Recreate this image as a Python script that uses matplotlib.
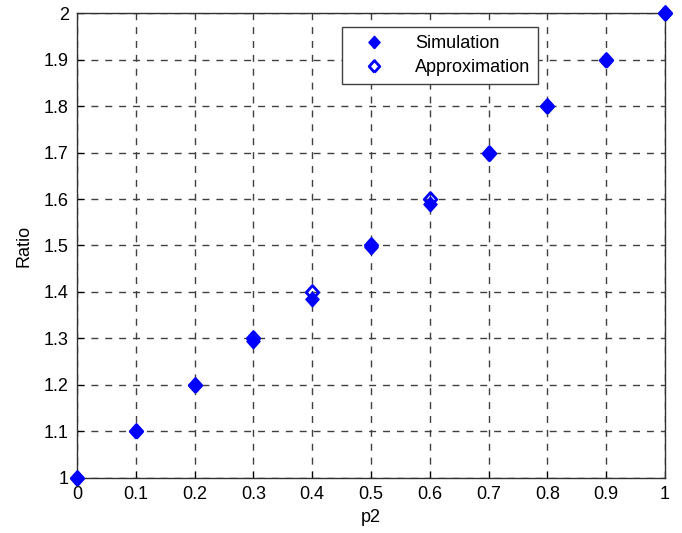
import matplotlib.pyplot as plt
import numpy as np

plt.rcParams['font.family'] = ['Liberation Sans', 'DejaVu Sans']

p2 = [0, 0.1, 0.2, 0.3, 0.4, 0.5, 0.6, 0.7, 0.8, 0.9, 1.0]
simulation = [1.0, 1.1, 1.2, 1.295, 1.385, 1.497, 1.59, 1.697, 1.8, 1.9, 2.0]
approximation = [1.0, 1.1, 1.2, 1.3, 1.4, 1.5, 1.6, 1.7, 1.8, 1.9, 2.0]

# matlab style diamond, a bit taller than wide
diamond = [(0, -1), (0.9, 0), (0, 1), (-0.9, 0), (0, -1)]

fig = plt.figure(figsize=(6.82, 5.33), dpi=100)
ax = fig.add_axes([0.1129, 0.1032, 0.862, 0.8724])

ax.plot(p2, approximation, linestyle='none', marker=diamond, markersize=10,
        color='#0000ff', markerfacecolor='none', markeredgewidth=2.0,
        label='Approximation', clip_on=False, zorder=3)
ax.plot(p2, simulation, linestyle='none', marker=diamond, markersize=10.5,
        color='#0000ff', markeredgewidth=1.0,
        label='Simulation', clip_on=False, zorder=4)

ax.set_xlim(0, 1)
ax.set_ylim(1, 2)
ax.set_xticks(np.arange(0, 1.01, 0.1))
ax.set_yticks(np.arange(1, 2.01, 0.1))
ax.set_xticklabels(['0', '0.1', '0.2', '0.3', '0.4', '0.5', '0.6', '0.7', '0.8', '0.9', '1'])
ax.set_yticklabels(['1', '1.1', '1.2', '1.3', '1.4', '1.5', '1.6', '1.7', '1.8', '1.9', '2'])
ax.tick_params(labelsize=13, direction='in', length=5, pad=6)
ax.grid(True, linestyle=(0, (5, 5)), color='#404040', linewidth=1.0)
for s in ax.spines.values():
    s.set_linewidth(1.0)
    s.set_color('#303030')

ax.set_xlabel('p2', fontsize=13, labelpad=4)
ax.set_ylabel('Ratio', fontsize=13, labelpad=8)

handles, labels = ax.get_legend_handles_labels()
leg = ax.legend(handles[::-1], labels[::-1], loc='upper left',
                bbox_to_anchor=(0.4507, 0.970), borderaxespad=0, fontsize=13,
                fancybox=False, edgecolor='#404040', framealpha=1,
                handlelength=2.6, handletextpad=1.0, borderpad=0.45,
                labelspacing=0.4, markerscale=0.85)
leg.get_frame().set_linewidth(1.0)

fig.savefig('out.png', dpi=100)
